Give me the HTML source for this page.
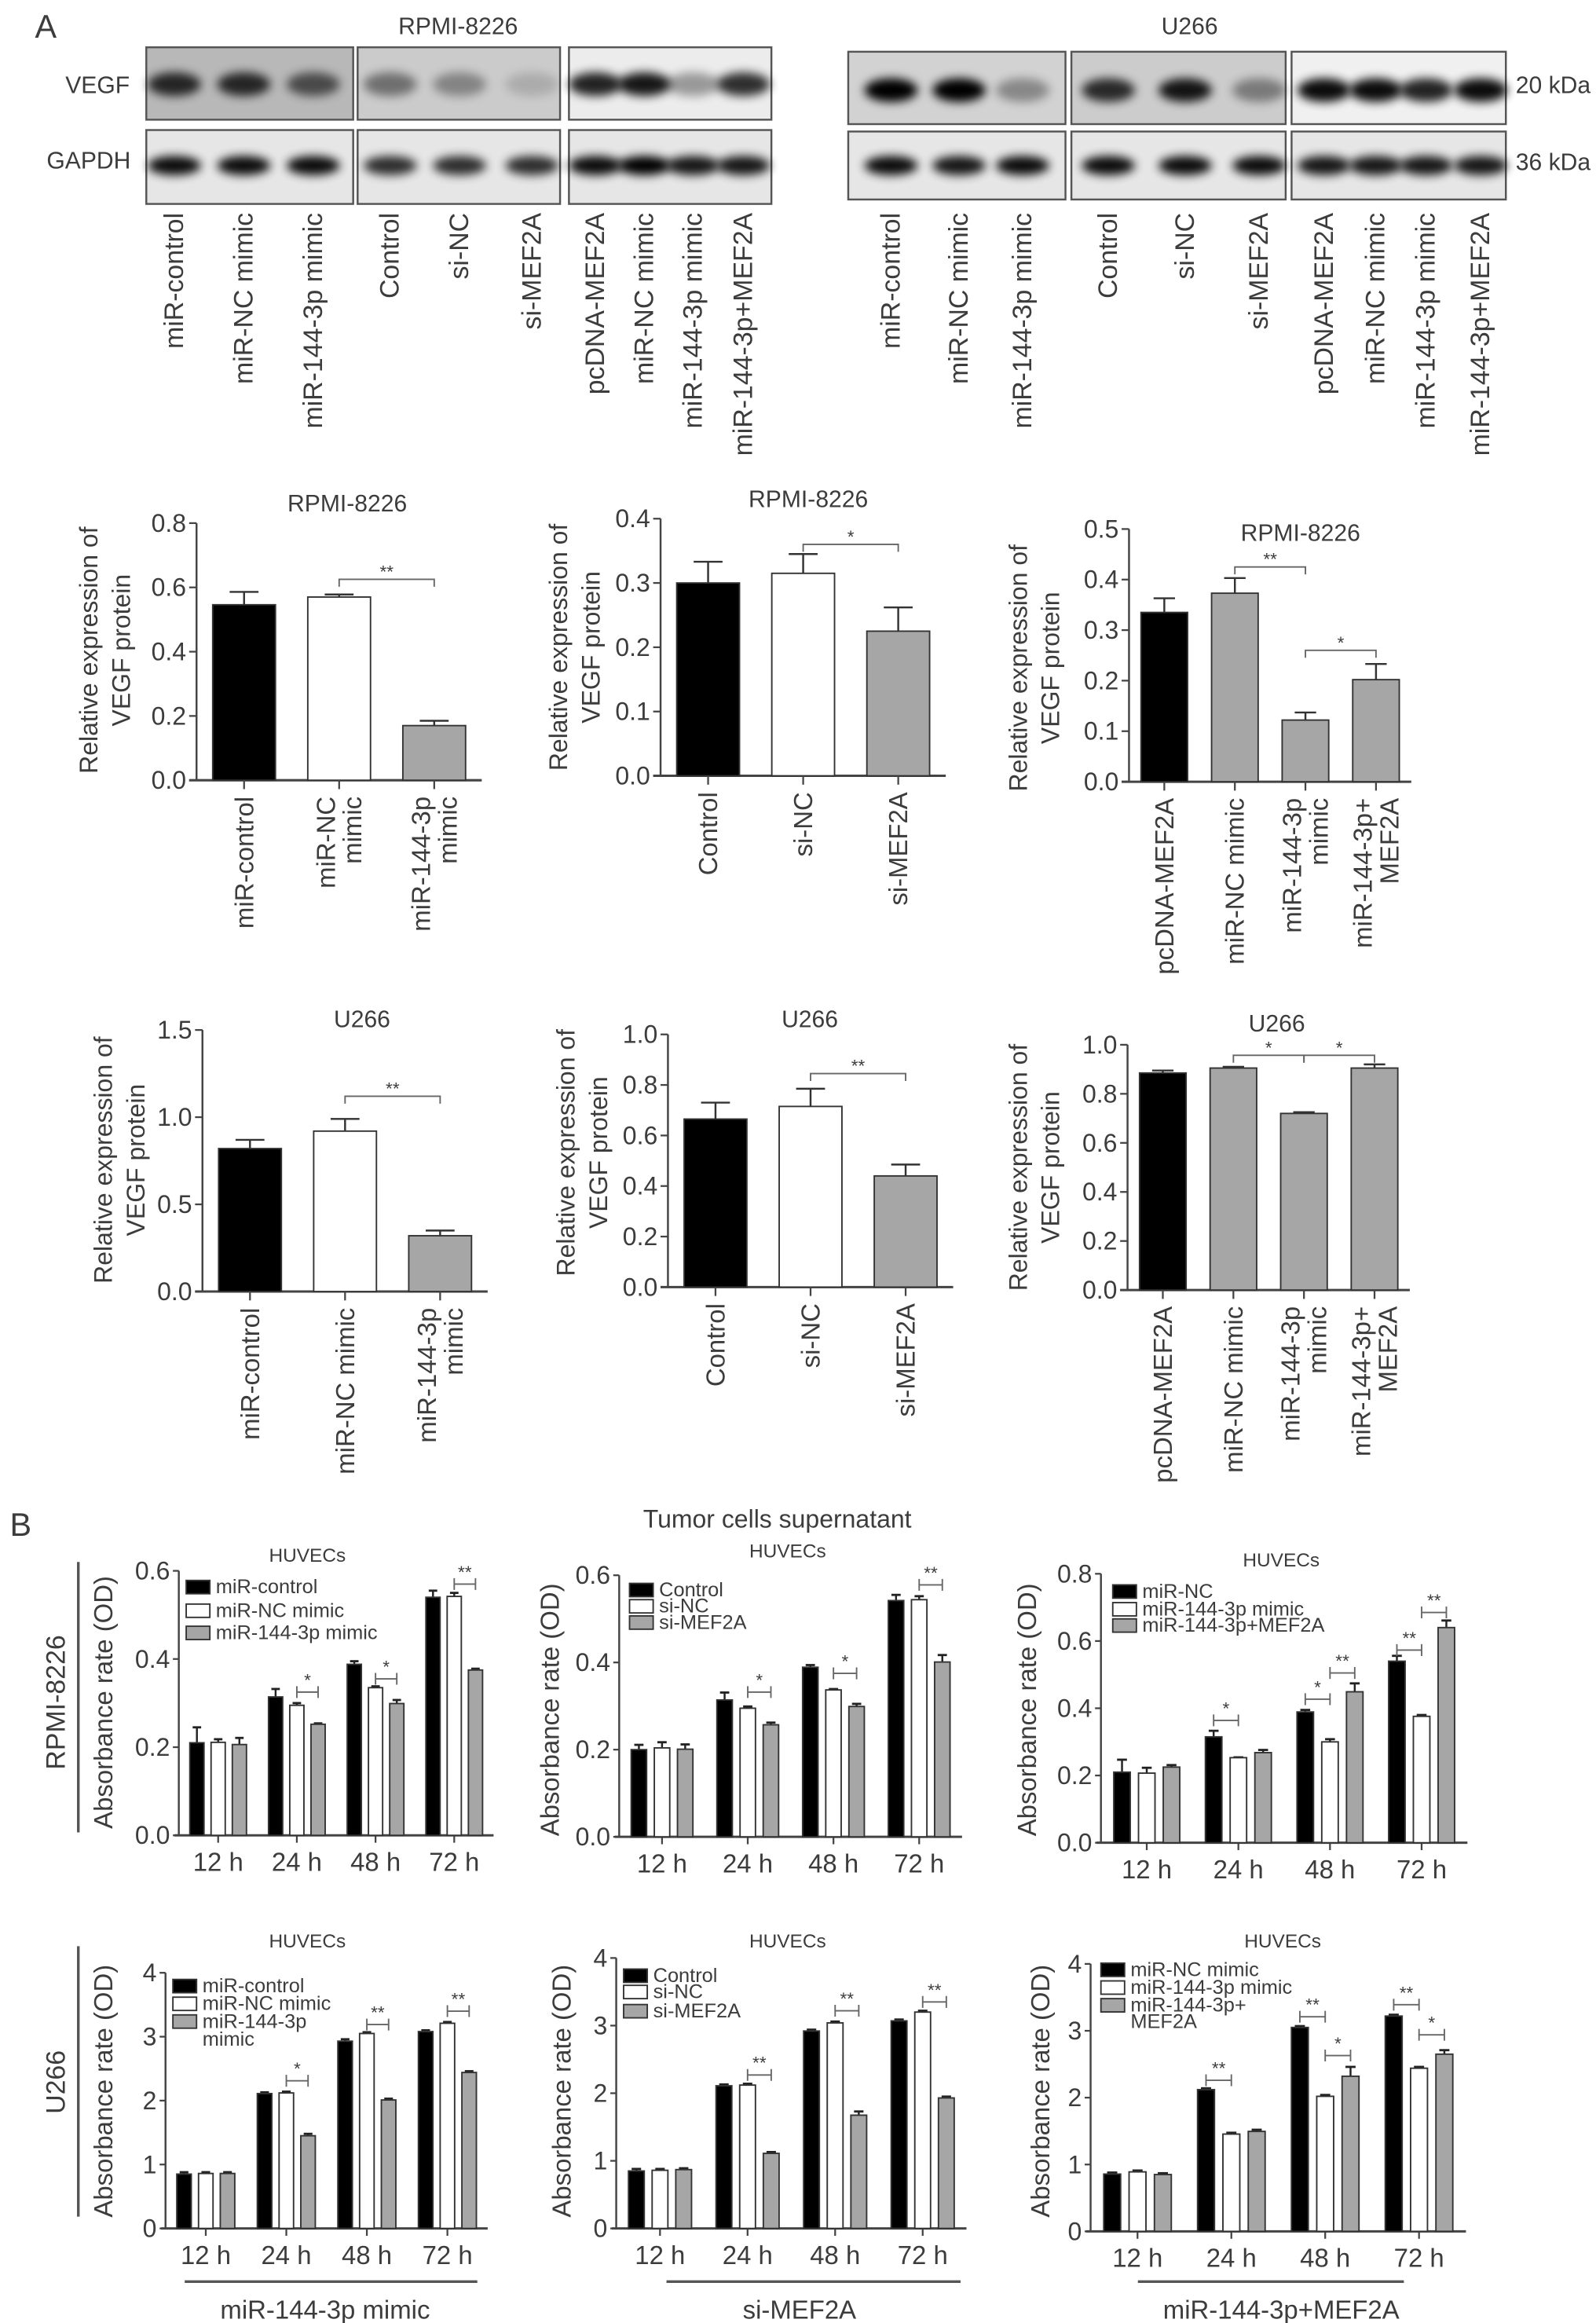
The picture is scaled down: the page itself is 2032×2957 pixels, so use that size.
<!DOCTYPE html>
<html><head><meta charset="utf-8"><style>
html,body{margin:0;padding:0;background:#fff;}
svg{display:block;font-family:"Liberation Sans",Arial,sans-serif;}
</style></head><body>
<svg id="fig" xmlns="http://www.w3.org/2000/svg" width="2032" height="2957" viewBox="0 0 1080 1572" preserveAspectRatio="none">
<defs><filter id="blur" x="-50%" y="-100%" width="200%" height="300%"><feGaussianBlur stdDeviation="3.2"/></filter></defs>
</svg>
<script>
// ---------- data: western blot band intensities ----------
const rpmiVegf=[0.8,0.8,0.6,0.45,0.35,0.15,0.85,0.9,0.35,0.8];
const u266Vegf=[1,1,0.35,0.8,0.9,0.4,0.95,0.95,0.85,0.95];
const rpmiGapdh=[0.95,0.95,0.95,0.8,0.8,0.8,0.95,1,0.9,0.9];
const u266Gapdh=[0.95,0.9,0.95,0.95,0.95,0.95,0.9,0.9,0.9,0.9];
const laneLabels=["miR-control","miR-NC mimic","miR-144-3p mimic","Control","si-NC","si-MEF2A","pcDNA-MEF2A","miR-NC mimic","miR-144-3p mimic","miR-144-3p+MEF2A"];

// ---------- data: panel A bar charts ----------
const a1Cats=[["miR-control"],["miR-NC","mimic"],["miR-144-3p","mimic"]];
const a1Vals=[0.546,0.570,0.170];
const a1Errs=[0.586,0.578,0.185];
const a1Ticks=[0,0.2,0.4,0.6,0.8];
const a1Sigs=[[1,2,0.625,"**"]];

const a2Cats=[["Control"],["si-NC"],["si-MEF2A"]];
const a2Vals=[0.300,0.315,0.225];
const a2Errs=[0.333,0.345,0.262];
const a2Ticks=[0,0.1,0.2,0.3,0.4];
const a2Sigs=[[1,2,0.36,"*"]];

const a3Cats=[["pcDNA-MEF2A"],["miR-NC mimic"],["miR-144-3p","mimic"],["miR-144-3p+","MEF2A"]];
const a3Vals=[0.335,0.373,0.122,0.202];
const a3Errs=[0.363,0.403,0.137,0.233];
const a3Ticks=[0,0.1,0.2,0.3,0.4,0.5];
const a3Sigs=[[1,2,0.425,"**"],[2,3,0.26,"*"]];

const a4Cats=[["miR-control"],["miR-NC mimic"],["miR-144-3p","mimic"]];
const a4Vals=[0.82,0.92,0.32];
const a4Errs=[0.87,0.99,0.35];
const a4Ticks=[0,0.5,1.0,1.5];
const a4Sigs=[[1,2,1.12,"**"]];

const a5Cats=[["Control"],["si-NC"],["si-MEF2A"]];
const a5Vals=[0.665,0.715,0.44];
const a5Errs=[0.73,0.785,0.485];
const a5Ticks=[0,0.2,0.4,0.6,0.8,1.0];
const a5Sigs=[[1,2,0.845,"**"]];

const a6Cats=[["pcDNA-MEF2A"],["miR-NC mimic"],["miR-144-3p","mimic"],["miR-144-3p+","MEF2A"]];
const a6Vals=[0.885,0.905,0.72,0.905];
const a6Errs=[0.895,0.91,0.725,0.92];
const a6Ticks=[0,0.2,0.4,0.6,0.8,1.0];
const a6Sigs=[[1,2,0.957,"*"],[2,3,0.957,"*"]];

// ---------- data: panel B grouped bar charts ----------
const timeCats=["12 h","24 h","48 h","72 h"];

const b1Legend=["miR-control","miR-NC mimic","miR-144-3p mimic"];
const b1S1=[0.21,0.314,0.388,0.54];  const b1E1=[0.245,0.332,0.395,0.555];
const b1S2=[0.211,0.295,0.335,0.542]; const b1E2=[0.218,0.30,0.338,0.55];
const b1S3=[0.206,0.252,0.299,0.375]; const b1E3=[0.221,0.254,0.307,0.378];
const b1Ticks=[0,0.2,0.4,0.6];
const b1Sigs=[[1,1,2,0.325,"*"],[2,1,2,0.355,"*"],[3,1,2,0.57,"**"]];

const b2Legend=["Control","si-NC","si-MEF2A"];
const b2S1=[0.2,0.314,0.389,0.542];  const b2E1=[0.211,0.331,0.394,0.555];
const b2S2=[0.204,0.295,0.337,0.544]; const b2E2=[0.217,0.299,0.339,0.552];
const b2S3=[0.201,0.257,0.299,0.401]; const b2E3=[0.212,0.262,0.305,0.417];
const b2Ticks=[0,0.2,0.4,0.6];
const b2Sigs=[[1,1,2,0.332,"*"],[2,1,2,0.375,"*"],[3,1,2,0.578,"**"]];

const b3Legend=["miR-NC","miR-144-3p mimic","miR-144-3p+MEF2A"];
const b3S1=[0.21,0.315,0.389,0.54];  const b3E1=[0.247,0.333,0.395,0.556];
const b3S2=[0.207,0.253,0.30,0.376]; const b3E2=[0.223,0.254,0.308,0.38];
const b3S3=[0.225,0.268,0.449,0.64]; const b3E3=[0.231,0.276,0.474,0.661];
const b3Ticks=[0,0.2,0.4,0.6,0.8];
const b3Sigs=[[1,0,1,0.364,"*"],[2,0,1,0.427,"*"],[2,1,2,0.505,"**"],[3,0,1,0.573,"**"],[3,1,2,0.685,"**"]];

const b4Legend=["miR-control","miR-NC mimic","miR-144-3p","mimic"];
const b4S1=[0.85,2.11,2.93,3.08]; const b4E1=[0.88,2.13,2.96,3.10];
const b4S2=[0.86,2.12,3.05,3.21]; const b4E2=[0.88,2.14,3.07,3.23];
const b4S3=[0.86,1.45,2.01,2.44]; const b4E3=[0.88,1.48,2.03,2.46];
const b4Ticks=[0,1,2,3,4];
const b4Sigs=[[1,1,2,2.31,"*"],[2,1,2,3.19,"**"],[3,1,2,3.40,"**"]];

const b5Legend=["Control","si-NC","si-MEF2A"];
const b5S1=[0.85,2.11,2.92,3.07]; const b5E1=[0.88,2.13,2.94,3.09];
const b5S2=[0.86,2.12,3.04,3.20]; const b5E2=[0.88,2.14,3.06,3.22];
const b5S3=[0.87,1.11,1.675,1.93]; const b5E3=[0.89,1.13,1.73,1.95];
const b5Ticks=[0,1,2,3,4];
const b5Sigs=[[1,1,2,2.27,"**"],[2,1,2,3.22,"**"],[3,1,2,3.35,"**"]];

const b6Legend=["miR-NC mimic","miR-144-3p mimic","miR-144-3p+","MEF2A"];
const b6S1=[0.857,2.12,3.05,3.22]; const b6E1=[0.88,2.14,3.07,3.24];
const b6S2=[0.89,1.455,2.02,2.44];  const b6E2=[0.91,1.475,2.04,2.46];
const b6S3=[0.85,1.495,2.32,2.65];  const b6E3=[0.87,1.52,2.46,2.71];
const b6Ticks=[0,1,2,3,4];
const b6Sigs=[[1,0,1,2.26,"**"],[2,0,1,3.21,"**"],[2,1,2,2.63,"*"],[3,0,1,3.39,"**"],[3,1,2,2.94,"*"]];

// ---------- helpers ----------
const NS="http://www.w3.org/2000/svg";
const svg=document.getElementById('fig');
const TXT="#3c3c3c";
function mk(tag,attrs,parent){const e=document.createElementNS(NS,tag);for(const k in attrs)e.setAttribute(k,attrs[k]);(parent||svg).appendChild(e);return e;}
function txt(x,y,s,size,anchor,parent,rot){
  const t=mk('text',{x:x,y:y,'font-size':size,'text-anchor':anchor||'middle',fill:TXT,'dominant-baseline':'central'},parent);
  if(rot) t.setAttribute('transform','rotate('+rot+' '+x+' '+y+')');
  t.textContent=s;return t;
}
function fmtT(v,dec){return dec===0?String(v):v.toFixed(dec);}

// ---------- labels A / B ----------
let t=txt(31,18,"A",22,'middle');


t=txt(14,1032,"B",22,'middle');



// ---------- western blots ----------
function blot(name,title,titleX,boxes,vegf,gapdh,lanes,vegfY,gapY,rowsY){
  const g=mk('g',{});
  
  
  const tt=txt(titleX,18,title,16,'middle',g);
  
  
  boxes.forEach((b,bi)=>{
    [[rowsY[0],rowsY[1],b[2],vegf,vegfY],[rowsY[2],rowsY[3],'#e6e6e6',gapdh,gapY]].forEach((r,ri)=>{
      const rect=mk('rect',{x:b[0],y:r[0],width:b[1]-b[0],height:r[1]-r[0],fill:r[2],stroke:'#555','stroke-width':1.3},g);
      
      
    });
  });
  lanes.forEach((lx,i)=>{
    const e1=mk('ellipse',{cx:lx,cy:vegfY,rx:18,ry:8,fill:'#000',opacity:vegf[i],filter:'url(#blur)'},g);
    
    
    const e2=mk('ellipse',{cx:lx,cy:gapY,rx:18,ry:6.5,fill:'#000',opacity:gapdh[i],filter:'url(#blur)'},g);
    
    
    const lt=txt(lx,144,laneLabels[i],18,'end',g,-90);
    
    
  });
}
blot('rpmi-blot','RPMI-8226',310,[[99,239,'#b8b8b8'],[242,379,'#cbcbcb'],[385,522,'#ececec']],rpmiVegf,rpmiGapdh,
  [118,165,212,264,311,360,403,436,469,503],57,112,[32,81,88,138]);
blot('u266-blot','U266',805,[[574,721,'#d2d2d2'],[725,870,'#cccccc'],[874,1019,'#f0f0f0']],u266Vegf,u266Gapdh,
  [603,649,692,750,802,852,896,931,965,1002],61,112,[35,84,89,135]);
[['VEGF',66,58],['GAPDH',60,109]].forEach(a=>{const e=txt(a[1],a[2],a[0],16,'middle');
  
  });
[['20 kDa',1051,58],['36 kDa',1051,110]].forEach(a=>{const e=txt(a[1],a[2],a[0],16,'middle');
  
  });

// ---------- panel A charts ----------
function drawA(c){
  const g=mk('g',{});
  
  
  const max=c.ticks[c.ticks.length-1];
  const Y=v=>c.y0-v/max*(c.y0-c.yTop);
  const n=c.vals.length,P=c.len/n,w=0.66*P;
  const X=i=>c.x0+(i+0.5)*P;
  const ya=mk('line',{x1:c.x0,y1:c.y0,x2:c.x0,y2:c.yTop,stroke:'#444','stroke-width':1.3},g);
  
  
  const xa=mk('line',{x1:c.x0-5,y1:c.y0,x2:c.x0+c.len,y2:c.y0,stroke:'#444','stroke-width':1.6},g);
  
  
  c.ticks.forEach(tv=>{
    mk('line',{x1:c.x0-5,y1:Y(tv),x2:c.x0,y2:Y(tv),stroke:'#444','stroke-width':1.2},g);
    const tl=txt(c.x0-7,Y(tv),fmtT(tv,1),17,'end',g);
    
    
  });
  c.vals.forEach((v,i)=>{
    const cx=X(i);
    mk('line',{x1:cx,y1:Y(v),x2:cx,y2:Y(c.errs[i]),stroke:'#333','stroke-width':1.3},g);
    mk('line',{x1:cx-w*0.23,y1:Y(c.errs[i]),x2:cx+w*0.23,y2:Y(c.errs[i]),stroke:'#333','stroke-width':1.3},g);
    const b=mk('rect',{x:cx-w/2,y:Y(v),width:w,height:c.y0-Y(v),fill:c.fills[i],stroke:'#333','stroke-width':1},g);
    
    
    mk('line',{x1:cx,y1:c.y0,x2:cx,y2:c.y0+6,stroke:'#444','stroke-width':1.2},g);
    const L=c.cats[i];
    L.forEach((s,k)=>{
      const lx=cx+(k-(L.length-1)/2)*18;
      const xl=txt(lx,c.y0+11,s,17.5,'end',g,-90);
      
      
    });
  });
  c.sigs.forEach(s=>{
    const y=Y(s[2]),xa1=X(s[0]),xb=X(s[1]);
    const br=mk('path',{d:`M${xa1},${y+5}V${y}H${xb}V${y+5}`,fill:'none',stroke:'#666','stroke-width':1},g);
    
    
    const st=txt((xa1+xb)/2,y-5,s[3],12,'middle',g);
    
    
  });
  const ti=txt(c.tx,c.ty,c.title,16,'middle',g);
  
  
  const l1=txt(c.lx,c.ly,"Relative expression of",17,'middle',g,-90);
  
  
  const l2=txt(c.lx+22,c.ly,"VEGF protein",17,'middle',g,-90);
  
  
}
const K='#000',W='#fff',G='#a6a6a6';
drawA({name:'chart-a-rpmi-mimic',x0:133,y0:528,yTop:354,len:193,ticks:a1Ticks,vals:a1Vals,errs:a1Errs,cats:a1Cats,sigs:a1Sigs,fills:[K,W,G],title:'RPMI-8226',tx:235,ty:341,lx:60,ly:440});
drawA({name:'chart-a-rpmi-si',x0:447,y0:525,yTop:351,len:193,ticks:a2Ticks,vals:a2Vals,errs:a2Errs,cats:a2Cats,sigs:a2Sigs,fills:[K,W,G],title:'RPMI-8226',tx:547,ty:338,lx:378,ly:438});
drawA({name:'chart-a-rpmi-rescue',x0:764,y0:529,yTop:358,len:191,ticks:a3Ticks,vals:a3Vals,errs:a3Errs,cats:a3Cats,sigs:a3Sigs,fills:[K,G,G,G],title:'RPMI-8226',tx:880,ty:361,lx:689,ly:452});
drawA({name:'chart-a-u266-mimic',x0:137,y0:874,yTop:697,len:193,ticks:a4Ticks,vals:a4Vals,errs:a4Errs,cats:a4Cats,sigs:a4Sigs,fills:[K,W,G],title:'U266',tx:245,ty:690,lx:70,ly:785});
drawA({name:'chart-a-u266-si',x0:452,y0:871,yTop:700,len:193,ticks:a5Ticks,vals:a5Vals,errs:a5Errs,cats:a5Cats,sigs:a5Sigs,fills:[K,W,G],title:'U266',tx:548,ty:690,lx:383,ly:780});
drawA({name:'chart-a-u266-rescue',x0:763,y0:873,yTop:707,len:191,ticks:a6Ticks,vals:a6Vals,errs:a6Errs,cats:a6Cats,sigs:a6Sigs,fills:[K,G,G,G],title:'U266',tx:864,ty:693,lx:689,ly:790});

// ---------- panel B charts ----------
function drawB(c){
  const g=mk('g',{});
  
  
  const max=c.ticks[c.ticks.length-1];
  const Y=v=>c.y0-v/max*(c.y0-c.yTop);
  const P=c.len/4,w=0.18*P,off=0.27*P;
  const X=(gi,si)=>c.x0+(gi+0.5)*P+(si-1)*off;
  const fills=[K,W,G];
  const ya=mk('line',{x1:c.x0,y1:c.y0,x2:c.x0,y2:c.yTop,stroke:'#444','stroke-width':1.3},g);
  
  
  const xa=mk('line',{x1:c.x0-3,y1:c.y0,x2:c.x0+c.len,y2:c.y0,stroke:'#444','stroke-width':1.6},g);
  
  
  c.ticks.forEach(tv=>{
    mk('line',{x1:c.x0-4,y1:Y(tv),x2:c.x0,y2:Y(tv),stroke:'#444','stroke-width':1.2},g);
    const tl=txt(c.x0-6,Y(tv),fmtT(tv,c.dec),17,'end',g);
    
    
  });
  timeCats.forEach((tc,gi)=>{
    const cx=c.x0+(gi+0.5)*P;
    mk('line',{x1:cx,y1:c.y0,x2:cx,y2:c.y0+5,stroke:'#444','stroke-width':1.2},g);
    const xl=txt(cx,c.y0+18,tc,17.5,'middle',g);
    
    
    c.series.forEach((s,si)=>{
      const v=s[gi],e=c.errs[si][gi],bx=X(gi,si);
      mk('line',{x1:bx,y1:Y(v),x2:bx,y2:Y(e),stroke:'#222','stroke-width':1.3},g);
      mk('line',{x1:bx-w*0.3,y1:Y(e),x2:bx+w*0.3,y2:Y(e),stroke:'#222','stroke-width':1.5},g);
      const b=mk('rect',{x:bx-w/2,y:Y(v),width:w,height:c.y0-Y(v),fill:fills[si],stroke:'#333','stroke-width':1},g);
      
      
    });
  });
  c.sigs.forEach(s=>{
    const y=Y(s[3]),xa1=X(s[0],s[1]),xb=X(s[0],s[2]);
    const br=mk('path',{d:`M${xa1},${y-4}V${y+4}M${xa1},${y}H${xb}M${xb},${y-4}V${y+4}`,fill:'none',stroke:'#666','stroke-width':1},g);
    
    
    const st=txt((xa1+xb)/2,y-8,s[4],12,'middle',g);
    
    
  });
  c.legend.forEach((s,i)=>{
    const y=c.legY[i];
    if(i<3){
      const r=mk('rect',{x:c.legX,y:y-4.5,width:16,height:9,fill:fills[i],stroke:'#333','stroke-width':1},g);
      
      
    }
    const lt=txt(c.legX+20,y,s,13.5,'start',g);
    
    
  });
  const ti=txt(c.tx,c.ty,'HUVECs',13,'middle',g);
  
  
  const yl=txt(c.lx,c.ly,'Absorbance rate (OD)',17.5,'middle',g,-90);
  
  
  if(c.bottom){
    const bl=mk('line',{x1:c.bottom[0],y1:1544,x2:c.bottom[1],y2:1544,stroke:'#555','stroke-width':1.8},g);
    
    
    const bt=txt(c.bottom[2],1563,c.bottom[3],17.5,'middle',g);
    
    
  }
}
drawB({name:'chart-b-rpmi-mimic',x0:121,y0:1242,yTop:1063,len:213,ticks:b1Ticks,dec:1,series:[b1S1,b1S2,b1S3],errs:[b1E1,b1E2,b1E3],sigs:b1Sigs,legend:b1Legend,legX:126,legY:[1074,1090,1105],tx:208,ty:1053,lx:70,ly:1152});
drawB({name:'chart-b-rpmi-si',x0:419,y0:1243,yTop:1066,len:232,ticks:b2Ticks,dec:1,series:[b2S1,b2S2,b2S3],errs:[b2E1,b2E2,b2E3],sigs:b2Sigs,legend:b2Legend,legX:426,legY:[1076,1087,1098],tx:533,ty:1050,lx:372,ly:1157});
drawB({name:'chart-b-rpmi-rescue',x0:745,y0:1247,yTop:1065,len:248,ticks:b3Ticks,dec:1,series:[b3S1,b3S2,b3S3],errs:[b3E1,b3E2,b3E3],sigs:b3Sigs,legend:b3Legend,legX:753,legY:[1077,1089,1100],tx:867,ty:1056,lx:695,ly:1157});
drawB({name:'chart-b-u266-mimic',x0:112,y0:1508,yTop:1335,len:218,ticks:b4Ticks,dec:0,series:[b4S1,b4S2,b4S3],errs:[b4E1,b4E2,b4E3],sigs:b4Sigs,legend:b4Legend,legX:117,legY:[1344,1356,1368,1380],tx:208,ty:1314,lx:70,ly:1415,bottom:[125,323,220,'miR-144-3p mimic']});
drawB({name:'chart-b-u266-si',x0:417,y0:1508,yTop:1325,len:237,ticks:b5Ticks,dec:0,series:[b5S1,b5S2,b5S3],errs:[b5E1,b5E2,b5E3],sigs:b5Sigs,legend:b5Legend,legX:422,legY:[1337,1348,1361],tx:533,ty:1314,lx:380,ly:1415,bottom:[451,650,541,'si-MEF2A']});
drawB({name:'chart-b-u266-rescue',x0:738,y0:1510,yTop:1329,len:254,ticks:b6Ticks,dec:0,series:[b6S1,b6S2,b6S3],errs:[b6E1,b6E2,b6E3],sigs:b6Sigs,legend:b6Legend,legX:745,legY:[1333,1345,1357,1368],tx:868,ty:1314,lx:704,ly:1415,bottom:[770,950,867,'miR-144-3p+MEF2A']});

// ---------- panel B extras ----------
t=txt(526,1028,'Tumor cells supernatant',17,'middle');


let ln=mk('line',{x1:53,y1:1057,x2:53,y2:1240,stroke:'#555','stroke-width':1.8});


t=txt(38,1152,'RPMI-8226',18,'middle',svg,-90);


ln=mk('line',{x1:53,y1:1317,x2:53,y2:1500,stroke:'#555','stroke-width':1.8});


t=txt(38,1409,'U266',18,'middle',svg,-90);


</script>
</body></html>
